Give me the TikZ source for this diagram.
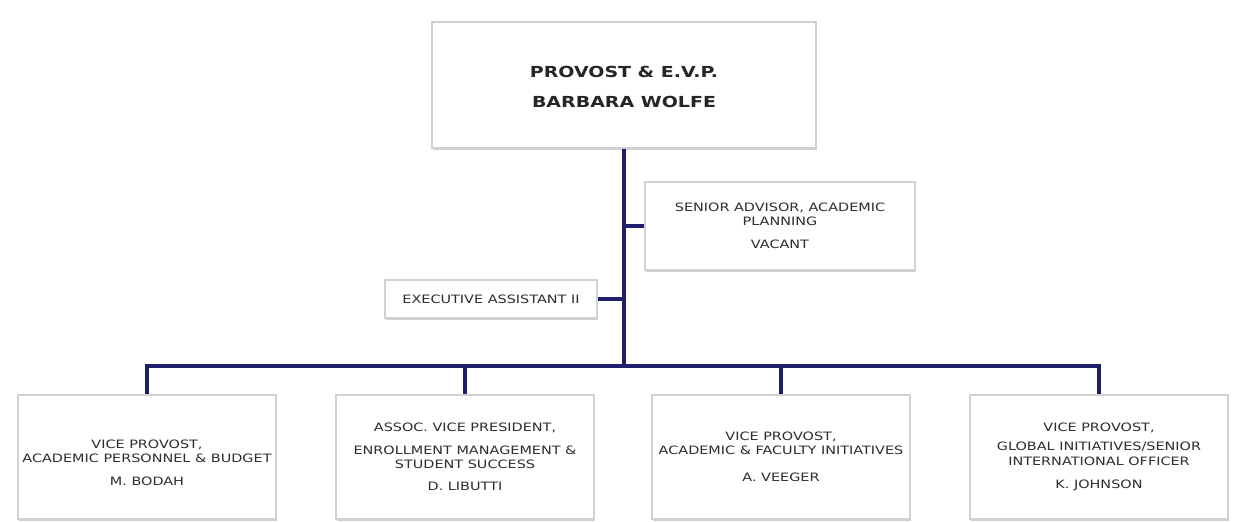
\documentclass[tikz,border=0pt]{standalone}
\usepackage{fontspec}
\setmainfont{DejaVu Sans}[FakeStretch=1.25]
\usetikzlibrary{shadows}
\definecolor{orgnavy}{RGB}{30,30,108}
\definecolor{orgtext}{RGB}{45,45,50}
\tikzset{
  x=0.025cm, y=-0.025cm,
  orgline/.style={draw=orgnavy, line width=2.6pt},
  orgbox/.style={draw=black!18, line width=1pt, fill=white, align=center,
    inner sep=0pt, text=orgtext,
    font=\fontsize{8.2}{10}\selectfont,
    drop shadow={shadow xshift=0.6pt, shadow yshift=-1.4pt, opacity=0.4, fill=black!45}},
}
\begin{document}
\begin{tikzpicture}
  \useasboundingbox[fill=white] (0,0) rectangle (1245,521);
  % top of the chart
  \node[orgbox, minimum width=384*0.025cm, minimum height=126*0.025cm,
        text=black!85, font=\bfseries\fontsize{10.8}{13}\selectfont] (provost) at (624,85)
        {\\[-2pt]PROVOST \& E.V.P.\\[8pt] BARBARA WOLFE};
  \node[orgbox, minimum width=270*0.025cm, minimum height=88*0.025cm] (advisor) at (780,226)
        {SENIOR ADVISOR, ACADEMIC\\ PLANNING\\[6pt] VACANT};
  \node[orgbox, minimum width=212*0.025cm, minimum height=38*0.025cm] (assistant) at (491,299)
        {EXECUTIVE ASSISTANT II};
  % vice provosts
  \begin{scope}[every node/.append style={orgbox, minimum width=258*0.025cm, minimum height=124*0.025cm}]
    \node (vpbudget) at (147,457)
          {\\[4pt]VICE PROVOST,\\ ACADEMIC PERSONNEL \& BUDGET\\[6pt] M. BODAH};
    \node (avpenroll) at (465,457)
          {ASSOC. VICE PRESIDENT,\\[6pt] ENROLLMENT MANAGEMENT \&\\ STUDENT SUCCESS\\[6pt] D. LIBUTTI};
    \node (vpfaculty) at (781,457)
          {\\[-4pt]VICE PROVOST,\\ ACADEMIC \& FACULTY INITIATIVES\\[9pt] A. VEEGER};
    \node (vpglobal) at (1099,457)
          {VICE PROVOST,\\[4pt] GLOBAL INITIATIVES/SENIOR\\ INTERNATIONAL OFFICER\\[7pt] K. JOHNSON};
  \end{scope}
  \coordinate (bus) at (624,366);
  \draw[orgline] (provost.south) -- (bus);
  \draw[orgline] (provost.south |- advisor.west) -- (advisor.west);
  \draw[orgline] (assistant.east) -- (assistant.east -| provost.south);
  \foreach \vp in {vpbudget,avpenroll,vpfaculty,vpglobal}
    \draw[orgline] (bus) -| (\vp.north);
\end{tikzpicture}
\end{document}
